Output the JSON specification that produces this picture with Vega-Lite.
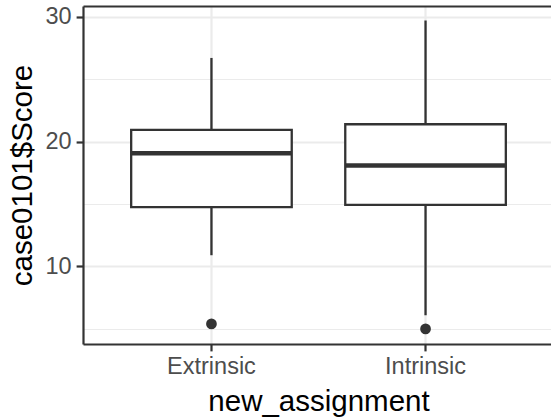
{
  "$schema": "https://vega.github.io/schema/vega-lite/v6.json",
  "width": 468,
  "height": 338,
  "autosize": {"type": "none"},
  "padding": {"left": 83, "top": 6, "right": 0, "bottom": 73},
  "background": "white",
  "config": {
    "view": {"stroke": null},
    "font": "Liberation Sans",
    "axis": {
      "domainColor": "#333333",
      "domainWidth": 2.2,
      "tickColor": "#333333",
      "tickWidth": 2.2,
      "tickSize": 6.9,
      "labelColor": "#4D4D4D",
      "labelFontSize": 23.5,
      "labelFont": "Liberation Sans",
      "titleFont": "Liberation Sans",
      "titleFontSize": 29.5,
      "titleFontWeight": "normal",
      "titleColor": "#000000",
      "gridColor": "#EBEBEB",
      "gridWidth": 2.2
    }
  },
  "data": {
    "values": [
      {"new_assignment": "Extrinsic", "lower": 10.9, "q1": 14.75, "median": 19.07, "q3": 20.94, "upper": 26.7, "outlier": 5.4},
      {"new_assignment": "Intrinsic", "lower": 6.1, "q1": 14.94, "median": 18.08, "q3": 21.39, "upper": 29.7, "outlier": 5.0}
    ]
  },
  "resolve": {"axis": {"x": "independent"}},
  "layer": [
    {
      "mark": {"type": "rule", "color": "#333333", "strokeWidth": 2.3},
      "encoding": {
        "x": {
          "field": "new_assignment", "type": "nominal",
          "scale": {"type": "band", "domain": ["Extrinsic", "Intrinsic"], "range": [0, 471], "paddingInner": 0, "paddingOuter": 0.1},
          "axis": {"orient": "bottom", "title": "new_assignment", "labelAngle": 0, "labelPadding": 3.8, "titlePadding": 9, "grid": true}
        },
        "y": {
          "field": "lower", "type": "quantitative",
          "scale": {"domain": [3.79, 30.86], "nice": false, "zero": false},
          "axis": {
            "orient": "left",
            "title": "case0101$Score",
            "values": [5, 10, 15, 20, 25, 30],
            "labelExpr": "datum.value % 10 === 0 ? datum.label : ''",
            "labelPadding": 5,
            "titlePadding": 7,
            "tickOpacity": {"condition": {"test": "datum.value % 10 === 0", "value": 1}, "value": 0},
            "gridWidth": {"condition": {"test": "datum.value % 10 === 0", "value": 2.2}, "value": 1.15},
            "grid": true
          }
        },
        "y2": {"field": "upper"}
      }
    },
    {
      "mark": {"type": "bar", "fill": "#FFFFFF", "stroke": "#333333", "strokeWidth": 2.3, "width": {"band": 0.75}},
      "encoding": {
        "x": {
          "field": "new_assignment", "type": "nominal",
          "scale": {"type": "band", "domain": ["Extrinsic", "Intrinsic"], "range": [0, 471], "paddingInner": 0, "paddingOuter": 0.1},
          "axis": {"orient": "top", "title": null, "labels": false, "ticks": false, "grid": false, "domain": true}
        },
        "y": {"field": "q1", "type": "quantitative", "title": "case0101$Score"},
        "y2": {"field": "q3"}
      }
    },
    {
      "mark": {"type": "tick", "color": "#333333", "size": 161, "thickness": 4.6, "opacity": 1},
      "encoding": {
        "x": {
          "field": "new_assignment", "type": "nominal",
          "scale": {"type": "band", "domain": ["Extrinsic", "Intrinsic"], "range": [0, 471], "paddingInner": 0, "paddingOuter": 0.1},
          "axis": null
        },
        "y": {"field": "median", "type": "quantitative", "title": "case0101$Score"}
      }
    },
    {
      "mark": {"type": "point", "filled": true, "color": "#333333", "size": 115, "opacity": 1},
      "encoding": {
        "x": {
          "field": "new_assignment", "type": "nominal",
          "scale": {"type": "band", "domain": ["Extrinsic", "Intrinsic"], "range": [0, 471], "paddingInner": 0, "paddingOuter": 0.1},
          "axis": null
        },
        "y": {"field": "outlier", "type": "quantitative", "title": "case0101$Score"}
      }
    }
  ]
}
